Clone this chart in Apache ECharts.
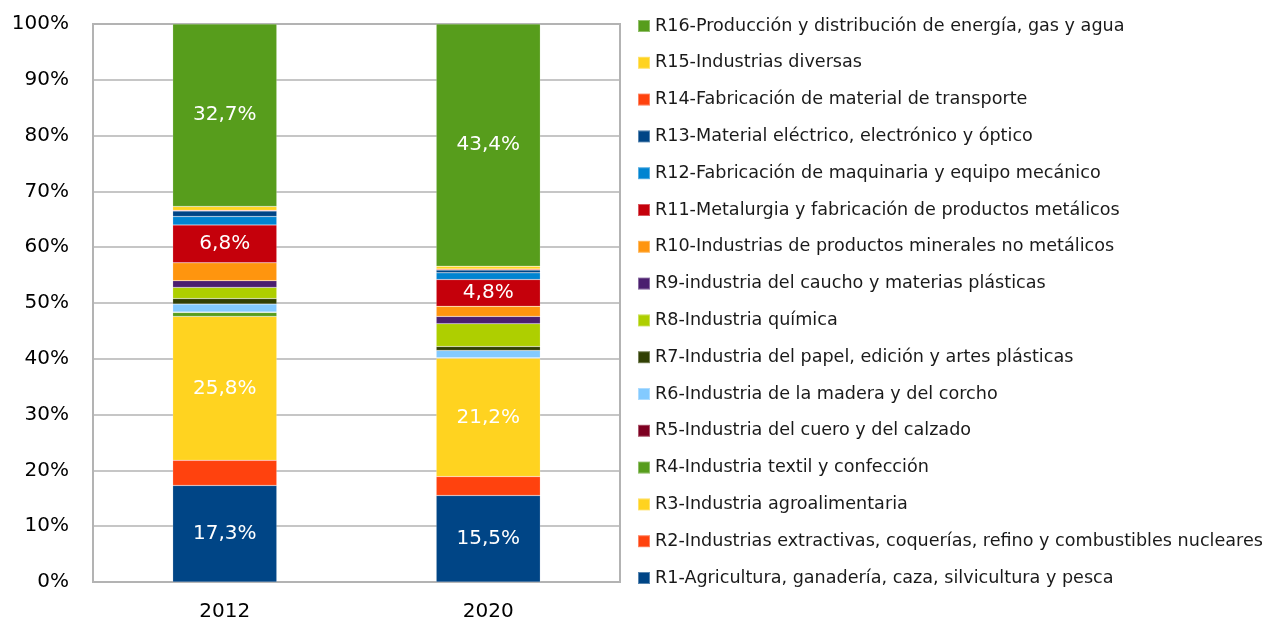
<!DOCTYPE html>
<html>
<head>
<meta charset="utf-8">
<script src="https://cdn.jsdelivr.net/npm/echarts@6/dist/echarts.min.js"></script>
<style>html,body{margin:0;padding:0;background:#fff}#c{width:1267px;height:626px}</style>
</head>
<body>
<div id="c"></div>
<script>
const years = ['2012', '2020'];
const seriesNames = [
  'R1-Agricultura, ganadería, caza, silvicultura y pesca',
  'R2-Industrias extractivas, coquerías, refino y combustibles nucleares',
  'R3-Industria agroalimentaria',
  'R4-Industria textil y confección',
  'R5-Industria del cuero y del calzado',
  'R6-Industria de la madera y del corcho',
  'R7-Industria del papel, edición y artes plásticas',
  'R8-Industria química',
  'R9-industria del caucho y materias plásticas',
  'R10-Industrias de productos minerales no metálicos',
  'R11-Metalurgia y fabricación de productos metálicos',
  'R12-Fabricación de maquinaria y equipo mecánico',
  'R13-Material eléctrico, electrónico y óptico',
  'R14-Fabricación de material de transporte',
  'R15-Industrias diversas',
  'R16-Producción y distribución de energía, gas y agua'
];
// values per series: [2012, 2020]
const R1 = [17.3, 15.5];
const R2 = [4.5, 3.4];
const R3 = [25.8, 21.2];
const R4 = [0.7, 0.1];
const R5 = [0.1, 0.0];
const R6 = [1.4, 1.3];
const R7 = [1.0, 0.7];
const R8 = [2.0, 4.1];
const R9 = [1.2, 1.3];
const R10 = [3.2, 1.8];
const R11 = [6.8, 4.8];
const R12 = [1.5, 1.2];
const R13 = [1.0, 0.5];
const R14 = [0.1, 0.2];
const R15 = [0.7, 0.5];
const R16 = [32.7, 43.4];
const yTicks = ['0%', '10%', '20%', '30%', '40%', '50%', '60%', '70%', '80%', '90%', '100%'];

const allValues = [R1, R2, R3, R4, R5, R6, R7, R8, R9, R10, R11, R12, R13, R14, R15, R16];
const colors = ['#004586', '#ff420e', '#ffd320', '#579d1c', '#7e0021', '#83caff', '#314004', '#aecf00',
  '#4b1f6f', '#ff950e', '#c5000b', '#0084d1', '#004586', '#ff420e', '#ffd320', '#579d1c'];
const labeled = [0, 2, 10, 15];
const font = 'DejaVu Sans';

const series = allValues.map((vals, i) => ({
  name: seriesNames[i],
  type: 'bar',
  stack: 'total',
  barWidth: '39.5%',
  data: vals,
  itemStyle: { color: colors[i], borderColor: 'rgba(255,255,255,0.35)', borderWidth: 0.5 },
  label: {
    show: labeled.includes(i),
    position: 'inside',
    color: '#ffffff',
    fontFamily: font,
    fontSize: 20,
    formatter: p => p.value.toFixed(1).replace('.', ',') + '%'
  }
}));

const chart = echarts.init(document.getElementById('c'), null, { renderer: 'canvas' });
chart.setOption({
  animation: false,
  backgroundColor: '#ffffff',
  color: colors,
  grid: { left: 93, right: 647, top: 24, bottom: 44, show: true, borderColor: '#b3b3b3', borderWidth: 2, backgroundColor: 'transparent' },
  xAxis: {
    type: 'category',
    data: years,
    axisLine: { show: true, lineStyle: { color: '#b3b3b3', width: 2 } },
    axisTick: { show: false },
    axisLabel: { color: '#000', fontFamily: font, fontSize: 20, margin: 20 }
  },
  yAxis: {
    type: 'value',
    min: 0, max: 100, interval: 10,
    axisLine: { show: true, lineStyle: { color: '#b3b3b3', width: 2 } },
    axisTick: { show: false },
    splitLine: { lineStyle: { color: '#b3b3b3', width: 1.5 } },
    axisLabel: { color: '#000', fontFamily: font, fontSize: 20, margin: 24,
      formatter: v => yTicks[Math.round(v / 10)] }
  },
  legend: {
    orient: 'vertical',
    left: 637,
    top: 17,
    padding: 0,
    itemWidth: 12,
    itemHeight: 12,
    itemGap: 18.8,
    icon: 'rect',
    data: seriesNames.slice().reverse(),
    textStyle: { color: '#1a1a1a', fontFamily: font, fontSize: 17.6, lineHeight: 16, padding: [0, 0, 0, 0] },
    selectedMode: false
  },
  series: series
});
</script>
</body>
</html>
